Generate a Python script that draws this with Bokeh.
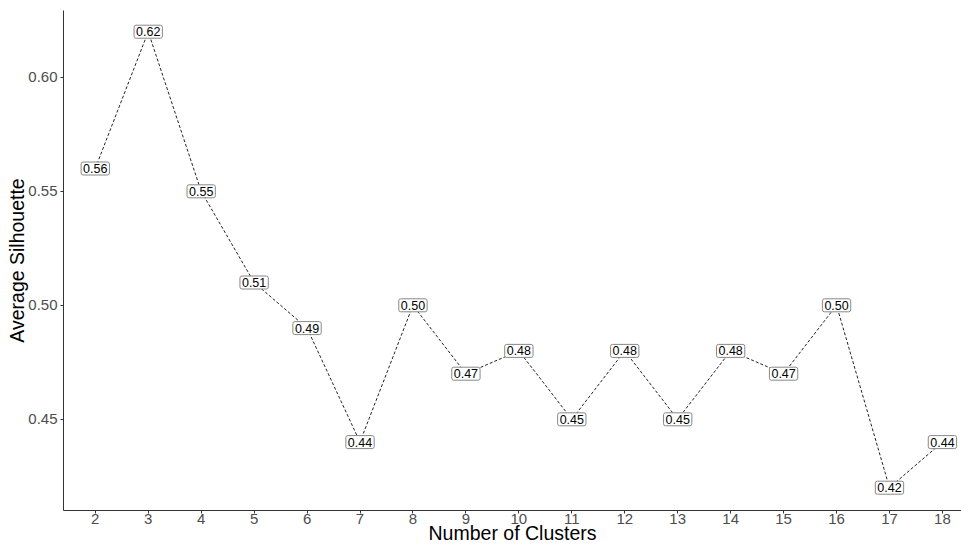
from bokeh.plotting import figure
from bokeh.models import ColumnDataSource, Range1d, FixedTicker, CustomJSTickFormatter
from bokeh.core.properties import value
from bokeh.embed import file_html
from bokeh.resources import INLINE

# Average silhouette width for each number of clusters
clusters = [2, 3, 4, 5, 6, 7, 8, 9, 10, 11, 12, 13, 14, 15, 16, 17, 18]
silhouette = [0.56, 0.62, 0.55, 0.51, 0.49, 0.44, 0.50, 0.47, 0.48,
              0.45, 0.48, 0.45, 0.48, 0.47, 0.50, 0.42, 0.44]
y_ticks = [0.45, 0.50, 0.55, 0.60]

src = ColumnDataSource(dict(
    x=clusters,
    y=silhouette,
    label=[f"{v:.2f}" for v in silhouette],
))

FONT = "Liberation Sans"

p = figure(
    width=961, height=546,
    output_backend="svg", toolbar_location=None,
    x_range=Range1d(1.4, 18.36), y_range=Range1d(0.41, 0.6293),
    min_border_left=63, min_border_right=0,
    min_border_top=10, min_border_bottom=35,
)
p.outline_line_color = None
p.background_fill_color = "white"
p.border_fill_color = "white"
p.grid.visible = False

p.line("x", "y", source=src, line_color="#222222", line_width=1,
       line_dash="3 2")

p.text("x", "y", text="label", source=src,
       text_font=value(FONT), text_font_size="12.5px", text_color="black",
       text_align="center", text_baseline="middle",
       background_fill_color="white", border_line_color="#888888",
       border_line_width=1, padding=2, border_radius=2)

# axes styled like a classic theme
for ax in (p.xaxis[0], p.yaxis[0]):
    ax.axis_line_color = "#333333"
    ax.axis_line_width = 1
    ax.major_tick_line_color = "#333333"
    ax.major_tick_out = 3
    ax.major_tick_in = 0
    ax.minor_tick_line_color = None
    ax.major_label_text_font = FONT
    ax.major_label_text_font_size = "15px"
    ax.major_label_text_color = "#4D4D4D"
    ax.axis_label_text_font = FONT
    ax.axis_label_text_font_size = "19.5px"
    ax.axis_label_text_font_style = "normal"
    ax.axis_label_text_color = "black"

p.xaxis.ticker = FixedTicker(ticks=clusters)
p.yaxis.ticker = FixedTicker(ticks=y_ticks)
p.yaxis.formatter = CustomJSTickFormatter(code="return tick.toFixed(2);")
p.xaxis.axis_label = "Number of Clusters"
p.yaxis.axis_label = "Average Silhouette"
p.xaxis.major_label_standoff = 0
p.yaxis.major_label_standoff = 3
p.xaxis.axis_label_standoff = -5
p.yaxis.axis_label_standoff = -3

open("out.html", "w").write(file_html(p, INLINE))
